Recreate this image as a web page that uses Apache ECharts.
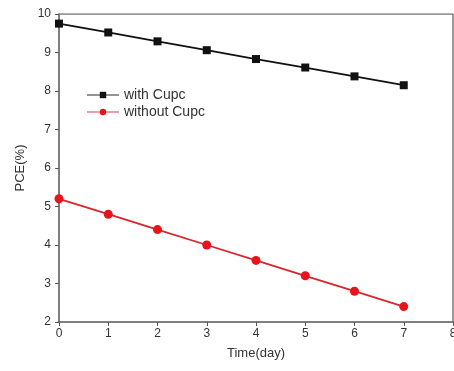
<!DOCTYPE html>
<html>
<head>
<meta charset="utf-8">
<script src="https://cdn.jsdelivr.net/npm/echarts@6/dist/echarts.min.js"></script>
<style>
  html, body { margin: 0; padding: 0; background: #fff; }
  #chart { width: 454px; height: 371px; }
</style>
</head>
<body>
<div id="chart"></div>
<script>
// days on the x axis
const days = [0, 1, 2, 3, 4, 5, 6, 7];
// PCE (%) values
const withCupc = [9.75, 9.52, 9.29, 9.06, 8.83, 8.61, 8.38, 8.15];
const withoutCupc = [5.2, 4.8, 4.4, 4.0, 3.6, 3.2, 2.8, 2.4];

const chart = echarts.init(document.getElementById("chart"));
const axisColor = "#555";
const textStyle = { color: "#333", fontFamily: "Liberation Sans", fontSize: 12 };

const option = {
  animation: false,
  textStyle: { fontFamily: "Liberation Sans" },
  grid: { left: 59, right: 1, top: 14, bottom: 49, containLabel: false, outerBoundsMode: "none" },
  legend: {
    left: 81,
    top: 83,
    orient: "vertical",
    itemWidth: 32,
    itemHeight: 8,
    itemGap: 3,
    lineStyle: { opacity: 0.45 },
    textStyle: { color: "#333", fontSize: 14, fontFamily: "Liberation Sans", padding: [0, 0, 0, 0] },
    data: ["with Cupc", "without Cupc"],
  },
  xAxis: {
    type: "value",
    min: 0,
    max: 8,
    interval: 1,
    name: "Time(day)",
    nameLocation: "middle",
    nameGap: 25,
    nameTextStyle: { color: "#333", fontSize: 13, fontFamily: "Liberation Sans" },
    axisLine: { onZero: false, lineStyle: { color: axisColor, width: 1.5 } },
    axisTick: { inside: false, length: 4, lineStyle: { color: axisColor } },
    axisLabel: Object.assign({ margin: 6 }, textStyle),
    splitLine: { show: false },
  },
  yAxis: {
    type: "value",
    min: 2,
    max: 10,
    interval: 1,
    name: "PCE(%)",
    nameLocation: "middle",
    nameGap: 31,
    nameRotate: 90,
    nameTextStyle: { color: "#333", fontSize: 13, fontFamily: "Liberation Sans" },
    axisLine: { show: true, onZero: false, lineStyle: { color: axisColor, width: 1.5 } },
    axisTick: { show: true, inside: false, length: 4, lineStyle: { color: axisColor } },
    axisLabel: Object.assign({ margin: 8 }, textStyle),
    splitLine: { show: false },
  },
  series: [
    {
      name: "with Cupc",
      type: "line",
      data: days.map((d, i) => [d, withCupc[i]]),
      symbol: "rect",
      symbolSize: 8,
      itemStyle: { color: "#111" },
      lineStyle: { color: "#111", width: 1.8 },
    },
    {
      name: "without Cupc",
      type: "line",
      data: days.map((d, i) => [d, withoutCupc[i]]),
      symbol: "circle",
      symbolSize: 9,
      itemStyle: { color: "#e8141b" },
      lineStyle: { color: "#d8262b", width: 1.8 },
    },
    {
      // top and right frame lines
      type: "line",
      data: [[0, 10], [8, 10], [8, 2]],
      symbol: "none",
      silent: true,
      lineStyle: { color: "#777", width: 1.5 },
      z: 1,
    },
  ],
};
chart.setOption(option);
</script>
</body>
</html>
